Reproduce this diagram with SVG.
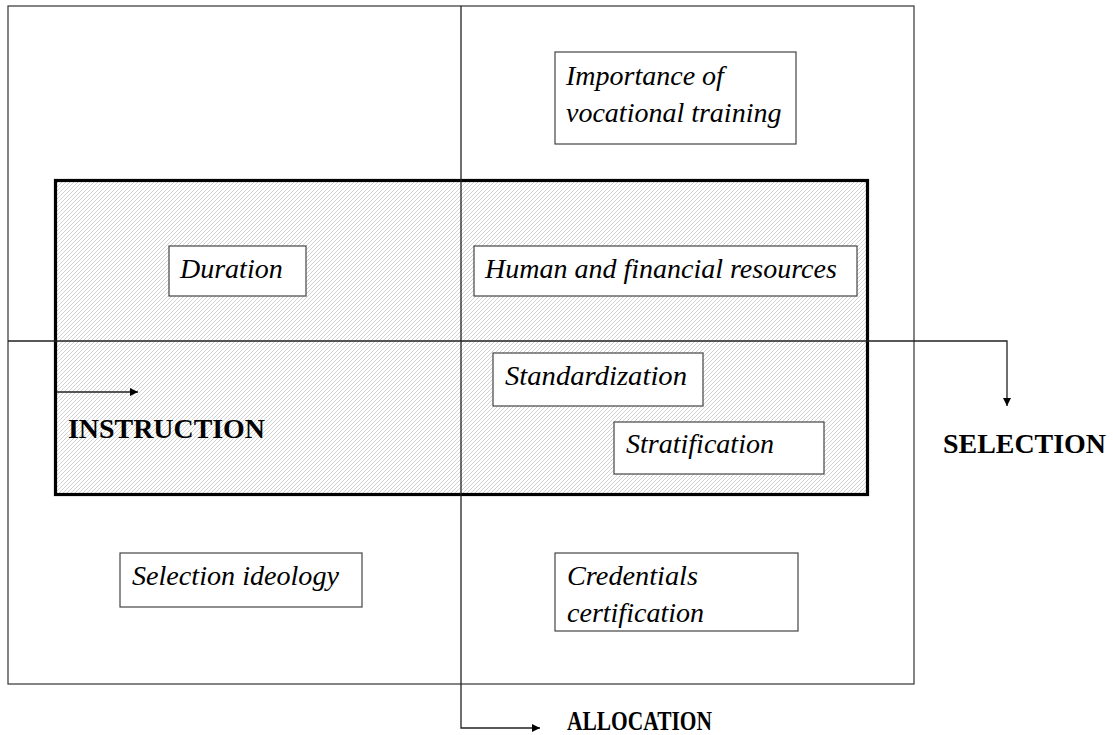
<svg xmlns="http://www.w3.org/2000/svg" width="1113" height="735" viewBox="0 0 1113 735">
<style>
.frame{fill:none;stroke:#333;stroke-width:1.2}
.box{fill:#fff;stroke:#444;stroke-width:1.2}
.lbl{font-family:'Liberation Serif',Tinos,'Nimbus Roman','Times New Roman',Times,serif;font-style:italic;font-size:28px;fill:#000}
.axis{font-family:'Liberation Serif',Tinos,'Nimbus Roman','Times New Roman',Times,serif;font-weight:bold;font-size:28px;fill:#000}
.conn{fill:none;stroke:#222;stroke-width:1.3}
</style>
<defs>
<pattern id="hatch" width="4" height="4" patternUnits="userSpaceOnUse">
<rect width="4" height="4" fill="#ffffff"/>
<path d="M-1,1 l2,-2 M0,4 l4,-4 M3,5 l2,-2" stroke="#c6c6c6" stroke-width="0.8"/>
</pattern>
<marker id="arr" viewBox="0 0 10 10" refX="10" refY="5" markerWidth="8" markerHeight="8" markerUnits="userSpaceOnUse" orient="auto">
<path d="M0,0 L10,5 L0,10 z" fill="#000"/>
</marker>
</defs>
<rect width="1113" height="735" fill="#fff"/>
<g id="outer-frame">
<rect class="frame" x="8" y="6" width="906" height="678"/>
</g>
<g id="core-area">
<rect x="55.5" y="180.5" width="812" height="314" fill="url(#hatch)" stroke="#000" stroke-width="3.2"/>
</g>
<g id="connectors">
<path class="conn" d="M461,6 V728 H540" marker-end="url(#arr)"/>
<path class="conn" d="M8,341 H1007 V406" marker-end="url(#arr)"/>
<path class="conn" d="M57,392 H138" marker-end="url(#arr)"/>
</g>
<g id="importance">
<rect class="box" x="555" y="52" width="241" height="92"/>
<text class="lbl" x="566" y="85">Importance of</text>
<text class="lbl" x="566" y="122">vocational training</text>
</g>
<g id="duration">
<rect class="box" x="169" y="246" width="137" height="50"/>
<text class="lbl" x="180" y="278">Duration</text>
</g>
<g id="resources">
<rect class="box" x="474" y="246" width="383" height="50"/>
<text class="lbl" x="485" y="278">Human and financial resources</text>
</g>
<g id="standardization">
<rect class="box" x="493" y="353" width="210" height="53"/>
<text class="lbl" x="505" y="385" textLength="182" lengthAdjust="spacingAndGlyphs">Standardization</text>
</g>
<g id="stratification">
<rect class="box" x="614" y="422" width="210" height="52"/>
<text class="lbl" x="626" y="453" textLength="148" lengthAdjust="spacingAndGlyphs">Stratification</text>
</g>
<g id="selection-ideology">
<rect class="box" x="120" y="553" width="242" height="54"/>
<text class="lbl" x="132" y="585" textLength="207" lengthAdjust="spacingAndGlyphs">Selection ideology</text>
</g>
<g id="credentials">
<rect class="box" x="555" y="553" width="243" height="78"/>
<text class="lbl" x="567" y="585" textLength="131" lengthAdjust="spacingAndGlyphs">Credentials</text>
<text class="lbl" x="567" y="622" textLength="137" lengthAdjust="spacingAndGlyphs">certification</text>
</g>
<g id="instruction">
<text class="axis" x="68" y="438" textLength="197" lengthAdjust="spacingAndGlyphs">INSTRUCTION</text>
</g>
<g id="selection">
<text class="axis" x="943" y="453" textLength="163" lengthAdjust="spacingAndGlyphs">SELECTION</text>
</g>
<g id="allocation">
<text class="axis" x="567" y="730" textLength="145" lengthAdjust="spacingAndGlyphs">ALLOCATION</text>
</g>
</svg>
